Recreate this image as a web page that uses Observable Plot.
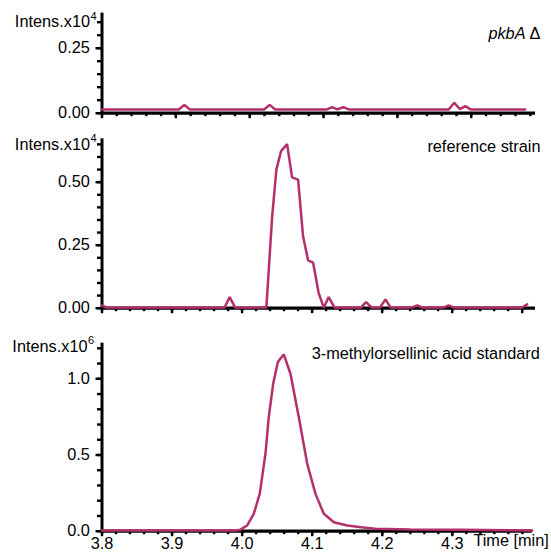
<!DOCTYPE html>
<html><head><meta charset="utf-8">
<script src="https://cdn.jsdelivr.net/npm/d3@7"></script>
<script src="https://cdn.jsdelivr.net/npm/@observablehq/plot@0.6"></script>
<style>
body{margin:0;background:#fff;}
#chart svg{display:block;}
</style></head><body><div id="chart"></div>
<script>
// ---- data (intensity in units of the panel's multiplier) ----
const topTime = [3.8, 3.904, 3.9115, 3.919, 4.0195, 4.027, 4.0345, 4.104, 4.1115, 4.119, 4.127, 4.1345, 4.2695, 4.277, 4.2845, 4.292, 4.2995, 4.373];
const topInt  = [0.014, 0.014, 0.032, 0.014, 0.014, 0.032, 0.014, 0.014, 0.023, 0.015, 0.023, 0.014, 0.014, 0.040, 0.016, 0.027, 0.014, 0.014];

const midTime = [3.8, 3.806, 3.975, 3.9823, 3.99, 4.0347, 4.0429, 4.049, 4.0557, 4.0643, 4.0714, 4.08, 4.0871, 4.0943, 4.1014, 4.1094, 4.1166, 4.1237, 4.1319, 4.17, 4.177, 4.185, 4.197, 4.2047, 4.212, 4.243, 4.25, 4.257, 4.288, 4.295, 4.302, 4.4, 4.407];
const midInt  = [0.011, 0.003, 0.003, 0.044, 0.003, 0.003, 0.361, 0.550, 0.623, 0.651, 0.519, 0.510, 0.285, 0.190, 0.181, 0.060, 0.002, 0.044, 0.003, 0.003, 0.024, 0.003, 0.003, 0.035, 0.003, 0.003, 0.011, 0.003, 0.003, 0.011, 0.003, 0.003, 0.015];

const botTime = [3.8, 3.99, 3.9976, 4.007, 4.0166, 4.0251, 4.0333, 4.038, 4.0443, 4.0509, 4.0545, 4.0594, 4.069, 4.0809, 4.0929, 4.1047, 4.1166, 4.1309, 4.15, 4.17, 4.19, 4.24, 4.31, 4.414];
const botInt  = [0.005, 0.005, 0.010, 0.037, 0.114, 0.245, 0.508, 0.748, 0.967, 1.109, 1.131, 1.160, 1.033, 0.748, 0.442, 0.245, 0.114, 0.059, 0.037, 0.026, 0.016, 0.011, 0.009, 0.005];

const panelLabels = ["pkbA", "reference strain", "3-methylorsellinic acid standard"];
const intensLabel = "Intens.x10";
const exponents = ["4", "4", "6"];
const xMajorTicks = [3.8, 3.9, 4.0, 4.1, 4.2, 4.3, 4.4];
const xLabelTicks = [3.8, 3.9, 4.0, 4.1, 4.2, 4.3];
const timeLabel = "Time [min]";
const yMajor = [[0, 0.25], [0, 0.25, 0.5], [0, 0.5, 1.0]];
const yMinor = [
  [0, 0.05, 0.1, 0.15, 0.2, 0.25, 0.3, 0.35],
  [0, 0.05, 0.1, 0.15, 0.2, 0.25, 0.3, 0.35, 0.4, 0.45, 0.5, 0.55, 0.6, 0.65],
  [0, 0.1, 0.2, 0.3, 0.4, 0.5, 0.6, 0.7, 0.8, 0.9, 1.0, 1.1, 1.2]
];
const yFormats = [".2f", ".2f", ".1f"];

const xMinorTicks = d3.range(0, 31).map(i => +(3.8 + i * 0.02).toFixed(2));
const color = "#b3306b";
const font = "'Liberation Sans', Arial, sans-serif";
const W = 551;

function panel(i, cfg, time, inten) {
  const data = time.map((t, k) => ({t, v: inten[k]}));
  const left = 101.5;
  const xMinor = xMinorTicks.filter(d => d <= cfg.xDomain[1]);
  const xMajor = xMajorTicks.filter(d => d <= cfg.xDomain[1]);
  const topTick = d3.max(yMinor[i]);
  const fmt = d3.format(yFormats[i]);
  const marks = [
    Plot.axisY({ticks: yMinor[i], tickSize: 4.5, tickFormat: () => "", stroke: "black", strokeWidth: 2.4, label: null}),
    Plot.axisY({ticks: yMajor[i], tickSize: 6, tickFormat: () => "", stroke: "black", strokeWidth: 2.4, label: null}),
    Plot.text(yMajor[i], {x: () => cfg.xDomain[0], y: d => d, text: d => fmt(d), textAnchor: "end", lineAnchor: "middle", dx: -12.2, fontSize: 16.3}),
    Plot.axisX({anchor: "bottom", ticks: xMinor, tickSize: 3.5, tickFormat: () => "", stroke: "black", strokeWidth: 2.4, label: null}),
    Plot.axisX({anchor: "bottom", ticks: i === 2 ? xLabelTicks : xMajor, tickSize: 5.5, tickPadding: 0.5,
      tickFormat: i === 2 ? d3.format(".1f") : () => "", stroke: "black", strokeWidth: 2.4, fontSize: 16.3, label: null}),
    Plot.ruleX([cfg.xDomain[0]], {stroke: "black", strokeWidth: 3}),
    Plot.ruleY([0], {stroke: "black", strokeWidth: 3.2}),
    Plot.line(data, {x: "t", y: "v", stroke: color, strokeWidth: 2.5, strokeLinejoin: "miter"}),
    Plot.text([topTick], {x: () => cfg.xDomain[0], y: d => d, text: () => intensLabel, textAnchor: "end", lineAnchor: "middle", dx: cfg.supDx - 0.5, dy: cfg.labDy, fontSize: 16.3}),
    Plot.text([topTick], {x: () => cfg.xDomain[0], y: d => d, text: () => exponents[i], textAnchor: "start", lineAnchor: "middle", dx: cfg.supDx, dy: cfg.labDy - 6, fontSize: 11})
  ];
  if (i === 0) {
    marks.push(Plot.text([panelLabels[0]], {frameAnchor: "top-right", text: d => d, textAnchor: "end", lineAnchor: "middle", dx: -10, dy: cfg.titleDy, fontSize: 16.3, fontStyle: "italic"}));
    marks.push(Plot.text(["Δ"], {frameAnchor: "top-right", text: d => d, textAnchor: "end", lineAnchor: "middle", dx: 5, dy: cfg.titleDy, fontSize: 16.3}));
  } else {
    marks.push(Plot.text([panelLabels[i]], {frameAnchor: "top-right", text: d => d, textAnchor: "end", lineAnchor: "middle", dx: cfg.titleDx, dy: cfg.titleDy, fontSize: 16.3}));
  }
  if (i === 2) {
    marks.push(Plot.text([timeLabel], {frameAnchor: "bottom-right", text: d => d, textAnchor: "end", lineAnchor: "middle", dx: 16.6, dy: 10, fontSize: 16.3}));
  }
  return Plot.plot({
    width: W, height: cfg.height,
    marginLeft: left, marginRight: W - cfg.xEnd,
    marginTop: cfg.yTopPx, marginBottom: cfg.height - cfg.yZeroPx,
    x: {domain: cfg.xDomain, range: [left, cfg.xEnd]},
    y: {domain: [0, cfg.yMax], range: [cfg.yZeroPx, cfg.yTopPx]},
    style: {fontFamily: font, fontSize: "16.3px", background: "white", color: "black", overflow: "visible"},
    marks
  });
}

const root = document.getElementById("chart");
root.append(panel(0, {height: 125, xDomain: [3.8, 4.387], xEnd: 535, yZeroPx: 112.7, yTopPx: 12.6, yMax: 0.385, supDx: -11.5, labDy: 0, titleDy: 20.4}, topTime, topInt));
root.append(panel(1, {height: 195, xDomain: [3.8, 4.419], xEnd: 535, yZeroPx: 182.7, yTopPx: 13.3, yMax: 0.672, supDx: -11.5, labDy: 0, titleDx: 5, titleDy: 8.4}, midTime, midInt));
root.append(panel(2, {height: 235, xDomain: [3.8, 4.414], xEnd: 531.7, yZeroPx: 210.7, yTopPx: 22.7, yMax: 1.2336, supDx: -14, labDy: -2, titleDx: 7.6, titleDy: 10.6}, botTime, botInt));
</script></body></html>
